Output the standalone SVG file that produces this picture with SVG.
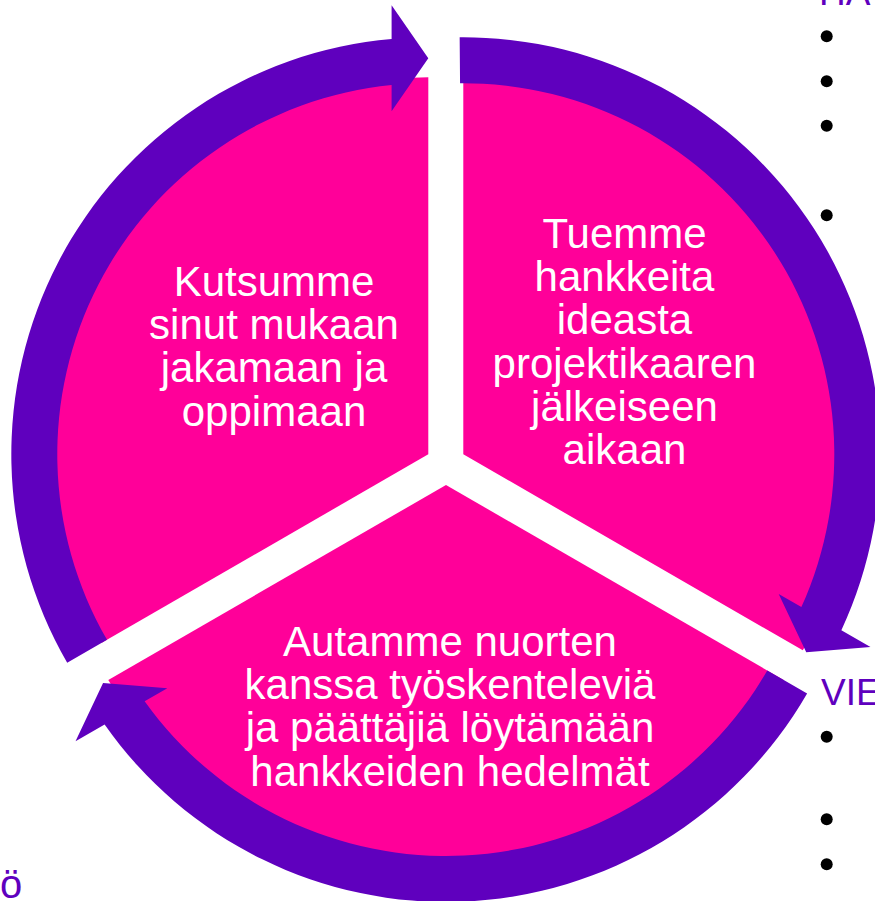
<svg xmlns="http://www.w3.org/2000/svg" width="875" height="901" viewBox="0 0 875 901">
<style>
.wedge{fill:#FF0099;}
.arrow{fill:#5F00BE;}
.lbl{font-family:"Liberation Sans",Arial,sans-serif;font-size:42px;fill:#FFFFFF;text-anchor:middle;}
.side{font-family:"Liberation Sans",Arial,sans-serif;font-size:37px;fill:#5F00BE;}
.bul{fill:#000000;}
</style>
<rect width="875" height="901" fill="#FFFFFF"/>
<g id="node-upper-left">
<path class="wedge" d="M428.3 454.3 L101.8 642.8 A377 377 0 0 1 428.3 77.3 Z"/>
<text class="lbl" x="274" y="295.7">Kutsumme</text>
<text class="lbl" x="274" y="339">sinut mukaan</text>
<text class="lbl" x="274" y="382.3">jakamaan ja</text>
<text class="lbl" x="274" y="425.6">oppimaan</text>
</g>
<g id="node-upper-right">
<path class="wedge" d="M463.3 454.3 L463.3 62.3 A392 392 0 0 1 802.8 650.3 Z"/>
<text class="lbl" x="624.5" y="247.7">Tuemme</text>
<text class="lbl" x="624.5" y="291">hankkeita</text>
<text class="lbl" x="624.5" y="334.3">ideasta</text>
<text class="lbl" x="624.5" y="377.7">projektikaaren</text>
<text class="lbl" x="624.5" y="421">jälkeiseen</text>
<text class="lbl" x="624.5" y="464.3">aikaan</text>
</g>
<g id="node-bottom">
<path class="wedge" d="M446 485 L783.7 680 A390 390 0 0 1 108.3 680 Z"/>
<text class="lbl" x="450" y="655.7">Autamme nuorten</text>
<text class="lbl" x="450" y="699">kanssa työskenteleviä</text>
<text class="lbl" x="450" y="742.3">ja päättäjiä löytämään</text>
<text class="lbl" x="450" y="785.6">hankkeiden hedelmät</text>
</g>
<g id="connectors">
<path class="arrow" d="M67.2 662.8 A417 417 0 0 1 391.6 38.9 L391.6 5.3 L428.3 58.3 L391.6 111.3 L391.6 85.1 A371 371 0 0 0 107 639.8 Z"/>
<path class="arrow" d="M459.66 37.32 A417 417 0 0 1 841.37 630.21 L870.48 647.02 L806.24 652.3 L778.69 594.02 L801.36 607.11 A371 371 0 0 0 460.06 83.31 Z"/>
<path class="arrow" d="M807.12 693.5 A417 417 0 0 1 104.63 724.47 L75.52 741.28 L103.06 683 L167.31 688.28 L144.64 701.37 A371 371 0 0 0 767.29 670.5 Z"/>
</g>
<g id="side-text">
<text class="side" x="819" y="5">HA</text>
<circle class="bul" cx="826.7" cy="36.3" r="6"/>
<circle class="bul" cx="826.7" cy="81.3" r="6"/>
<circle class="bul" cx="826.7" cy="125.7" r="6"/>
<circle class="bul" cx="826.7" cy="215.3" r="6"/>
<text class="side" x="821" y="705">VIE</text>
<circle class="bul" cx="826.7" cy="736.7" r="6"/>
<circle class="bul" cx="826.7" cy="819.3" r="6"/>
<circle class="bul" cx="826.7" cy="864.3" r="6"/>
<text class="side" x="0" y="898" style="font-size:40px">ö</text>
</g>
</svg>
